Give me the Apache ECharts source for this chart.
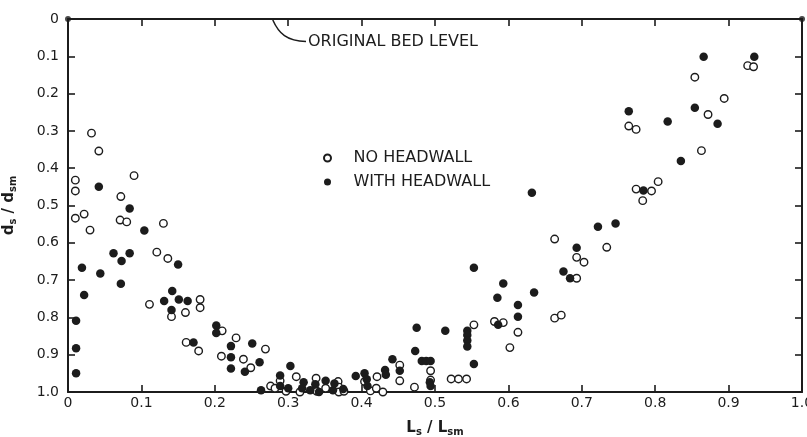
<!DOCTYPE html>
<html>
<head>
<meta charset="utf-8">
<script src="https://cdn.jsdelivr.net/npm/echarts@6/dist/echarts.min.js"></script>
<style>
html,body{margin:0;padding:0;background:#fff;}
#chart{width:807px;height:437px;}
</style>
</head>
<body>
<div id="chart"></div>
<script>
// ---- data (x = Ls/Lsm, y = ds/dsm) ----
const xTicks = [0, 0.1, 0.2, 0.3, 0.4, 0.5, 0.6, 0.7, 0.8, 0.9, 1.0];
const yTicks = [0, 0.1, 0.2, 0.3, 0.4, 0.5, 0.6, 0.7, 0.8, 0.9, 1.0];
const seriesNames = ['NO HEADWALL', 'WITH HEADWALL'];

const noHeadwall = [
  [0.032,0.306],[0.042,0.354],[0.090,0.420],[0.010,0.432],[0.010,0.461],[0.072,0.476],
  [0.022,0.523],[0.010,0.534],[0.071,0.539],[0.080,0.544],[0.130,0.548],[0.030,0.566],
  [0.121,0.625],[0.136,0.642],[0.111,0.765],[0.141,0.798],[0.160,0.787],[0.180,0.752],
  [0.180,0.774],[0.161,0.867],[0.178,0.890],[0.210,0.836],[0.229,0.855],[0.209,0.904],
  [0.239,0.912],[0.249,0.935],[0.269,0.885],[0.276,0.984],[0.289,0.970],[0.297,0.998],
  [0.311,0.959],[0.338,0.963],[0.351,0.990],[0.368,0.972],[0.369,0.987],[0.369,1.000],
  [0.404,0.972],[0.412,0.997],[0.421,0.959],[0.420,0.990],[0.429,1.000],[0.452,0.928],
  [0.452,0.970],[0.472,0.987],[0.494,0.943],[0.494,0.968],[0.522,0.965],[0.532,0.965],
  [0.543,0.965],[0.553,0.820],[0.581,0.811],[0.593,0.814],[0.602,0.881],[0.613,0.840],
  [0.663,0.590],[0.663,0.802],[0.672,0.794],[0.693,0.695],[0.693,0.639],[0.703,0.652],
  [0.734,0.612],[0.764,0.287],[0.774,0.296],[0.774,0.456],[0.795,0.461],[0.783,0.487],
  [0.804,0.436],[0.854,0.156],[0.863,0.353],[0.872,0.256],[0.894,0.213],[0.926,0.125],
  [0.934,0.128],[0.282,0.990],[0.316,1.000],[0.339,0.998],[0.376,0.998]
];

const withHeadwall = [
  [0.042,0.450],[0.084,0.508],[0.104,0.567],[0.062,0.628],[0.084,0.628],[0.073,0.649],
  [0.150,0.658],[0.019,0.667],[0.044,0.682],[0.072,0.710],[0.022,0.740],[0.142,0.729],
  [0.131,0.756],[0.151,0.752],[0.163,0.756],[0.141,0.780],[0.011,0.809],[0.011,0.883],
  [0.011,0.950],[0.171,0.867],[0.202,0.822],[0.202,0.842],[0.222,0.877],[0.222,0.907],
  [0.222,0.937],[0.241,0.946],[0.251,0.870],[0.261,0.920],[0.263,0.995],[0.289,0.956],
  [0.289,0.984],[0.303,0.930],[0.300,0.990],[0.321,0.974],[0.319,0.990],[0.330,0.995],
  [0.337,0.979],[0.342,1.000],[0.351,0.970],[0.361,0.995],[0.375,0.992],[0.392,0.957],
  [0.404,0.950],[0.407,0.966],[0.408,0.984],[0.432,0.941],[0.433,0.954],[0.442,0.912],
  [0.452,0.943],[0.475,0.828],[0.473,0.890],[0.482,0.917],[0.488,0.917],[0.494,0.917],
  [0.493,0.974],[0.494,0.984],[0.514,0.836],[0.544,0.836],[0.544,0.847],[0.544,0.862],
  [0.544,0.878],[0.553,0.925],[0.553,0.667],[0.585,0.747],[0.593,0.709],[0.586,0.820],
  [0.613,0.767],[0.613,0.798],[0.635,0.733],[0.632,0.466],[0.675,0.677],[0.684,0.695],
  [0.693,0.613],[0.722,0.557],[0.746,0.548],[0.764,0.247],[0.784,0.460],[0.817,0.275],
  [0.835,0.381],[0.854,0.238],[0.866,0.101],[0.885,0.281],[0.935,0.101],[0.363,0.977]
];

const cornerPins = [[0, 0], [1.0, 0]];
const annotationText = 'ORIGINAL BED LEVEL';
const annotationAnchor = [0.279, 0];   // where the leader meets the bed level line
const annotationTextAt = [0.327, 0.06]; // data position of the text start

// ---- chart ----
const INK = '#1c1c1c';
const FONT = 'DejaVu Sans';
const fmt = v => (v === 0 ? '0' : v.toFixed(1));

const chart = echarts.init(document.getElementById('chart'), null, {renderer: 'canvas'});

const axisCommon = {
  type: 'value', min: 0, max: 1.0, interval: 0.1,
  axisLine: {show: true, onZero: false, lineStyle: {color: INK, width: 2}},
  axisTick: {show: true, inside: true, length: 7, lineStyle: {color: INK, width: 1.6}},
  splitLine: {show: false}
};

const option = {
  backgroundColor: '#fff',
  animation: false,
  grid: {left: 68, right: 5, top: 19, bottom: 45, containLabel: false, outerBoundsMode: 'none'},
  legend: {
    data: seriesNames,
    orient: 'vertical',
    left: 318, top: 145,
    itemWidth: 42, itemHeight: 7, itemGap: 8,
    textStyle: {fontFamily: FONT, fontSize: 16, color: INK}
  },
  xAxis: [
    Object.assign({}, axisCommon, {
      position: 'bottom',
      axisLabel: {show: true, formatter: fmt, fontFamily: FONT, fontSize: 14, color: INK, margin: 4},
      name: 'L{sub|s} / L{sub|sm}',
      nameLocation: 'middle', nameGap: 27,
      nameTextStyle: {fontFamily: FONT, fontSize: 15, fontWeight: 'bold', color: INK,
        rich: {sub: {fontFamily: FONT, fontSize: 10, fontWeight: 'bold', color: INK, verticalAlign: 'bottom', padding: [8,0,0,0]}}}
    }),
    Object.assign({}, axisCommon, {
      position: 'top',
      axisLabel: {show: false}
    })
  ],
  yAxis: [
    Object.assign({}, axisCommon, {
      position: 'left', inverse: true,
      axisLabel: {show: true, formatter: fmt, fontFamily: FONT, fontSize: 14, color: INK, margin: 9},
      name: 'd{sub|s} / d{sub|sm}',
      nameLocation: 'middle', nameGap: 50, nameRotate: 90,
      nameTextStyle: {fontFamily: FONT, fontSize: 15, fontWeight: 'bold', color: INK,
        rich: {sub: {fontFamily: FONT, fontSize: 10, fontWeight: 'bold', color: INK, verticalAlign: 'bottom', padding: [8,0,0,0]}}}
    }),
    Object.assign({}, axisCommon, {
      position: 'right', inverse: true,
      axisLabel: {show: false}
    })
  ],
  series: [
    {
      name: seriesNames[0], type: 'scatter', xAxisIndex: 0, yAxisIndex: 0,
      data: noHeadwall, symbol: 'circle', symbolSize: 7.5, clip: false,
      itemStyle: {color: '#ffffff', borderColor: INK, borderWidth: 1.4, opacity: 1}
    },
    {
      name: seriesNames[1], type: 'scatter', xAxisIndex: 0, yAxisIndex: 0,
      data: withHeadwall, symbol: 'circle', symbolSize: 8.5, clip: false,
      itemStyle: {color: INK, opacity: 1}
    },
    {
      name: 'pins', type: 'scatter', xAxisIndex: 0, yAxisIndex: 0,
      data: cornerPins, symbol: 'circle', symbolSize: 6, clip: false, silent: true, z: 5,
      itemStyle: {color: INK}
    }
  ]
};

chart.setOption(option);

// annotation placed through the chart's own coordinate conversion
const a0 = chart.convertToPixel({gridIndex: 0}, annotationAnchor);
const t0 = chart.convertToPixel({gridIndex: 0}, annotationTextAt);
chart.setOption({
  graphic: [
    {
      type: 'bezierCurve',
      shape: {x1: a0[0], y1: a0[1] + 1, x2: t0[0] - 2, y2: t0[1],
              cpx1: a0[0] + 6, cpy1: t0[1] - 8, cpx2: a0[0] + 14, cpy2: t0[1]},
      style: {stroke: INK, lineWidth: 1.5, fill: null}
    },
    {
      type: 'text', x: t0[0], y: t0[1],
      style: {text: annotationText, fontFamily: FONT, fontSize: 16, fill: INK,
              textVerticalAlign: 'middle', verticalAlign: 'middle'}
    }
  ]
});
</script>
</body>
</html>
